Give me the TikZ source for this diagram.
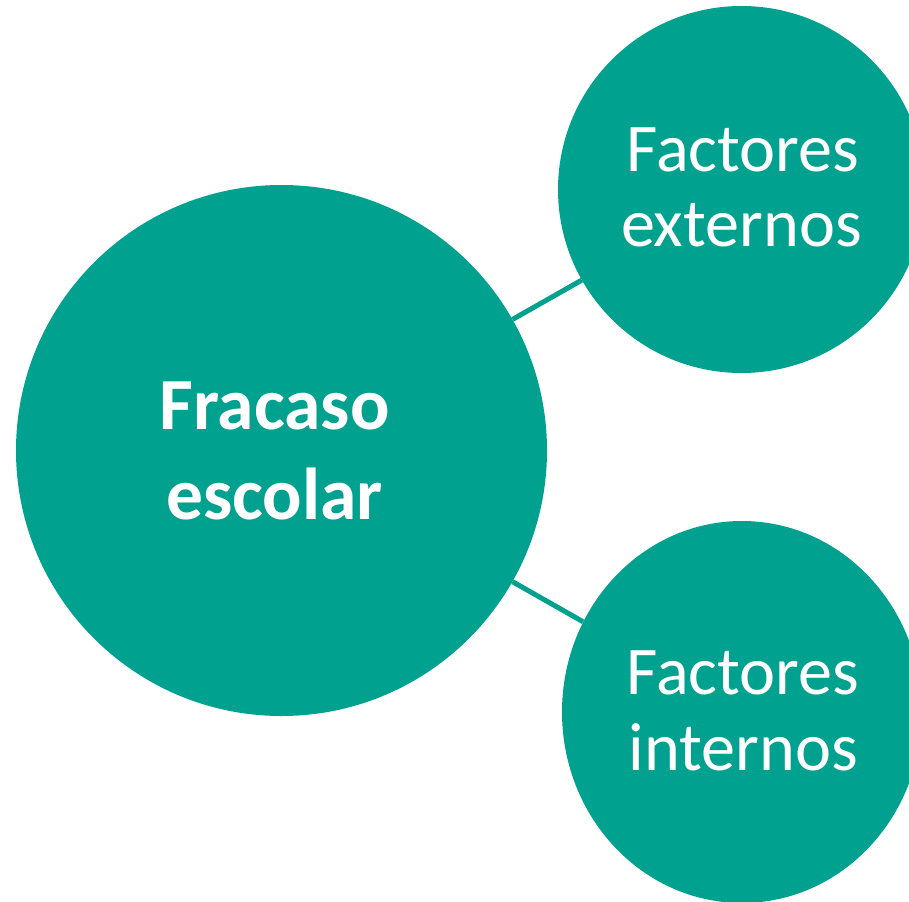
\documentclass[tikz,border=0pt]{standalone}
\usepackage{fontspec}
\setmainfont{Carlito}
\usetikzlibrary{shapes.geometric}
\definecolor{tealfill}{RGB}{1,161,144}
\begin{document}
\begin{tikzpicture}[x=1pt,y=-1pt,
  bubble/.style={fill=tealfill, draw=none, inner sep=0pt},
  link/.style={draw=tealfill, line width=5pt},
  bigtext/.style={text=white, font={\fontsize{73.5}{88}\selectfont\bfseries}, anchor=base, inner sep=0pt},
  smalltext/.style={text=white, font={\fontsize{68.2}{80}\selectfont}, anchor=base, inner sep=0pt}]
\useasboundingbox (0,0) rectangle (909,901);
\clip (0,0) rectangle (909,901);
\node[bubble, circle, minimum size=531pt] (fracaso) at (281.5,450.5) {};
\node[bubble, circle, minimum size=367pt] (ext) at (741.5,189.5) {};
\node[bubble, ellipse, minimum width=360pt, minimum height=382pt] (int) at (742,712) {};
\draw[link] (fracaso) -- (ext);
\draw[link] (fracaso) -- (int);
\node[bigtext] (f1) at (274.5,429.6) {Fracaso};
\node[bigtext] (f2) at (274.5,519) {escolar};
\node[smalltext] (e1) at (743,172) {Factores};
\node[smalltext] (e2) at (741.5,247) {externos};
\node[smalltext] (i1) at (743,694) {Factores};
\node[smalltext] (i2) at (743.5,770) {internos};
\end{tikzpicture}
\end{document}
